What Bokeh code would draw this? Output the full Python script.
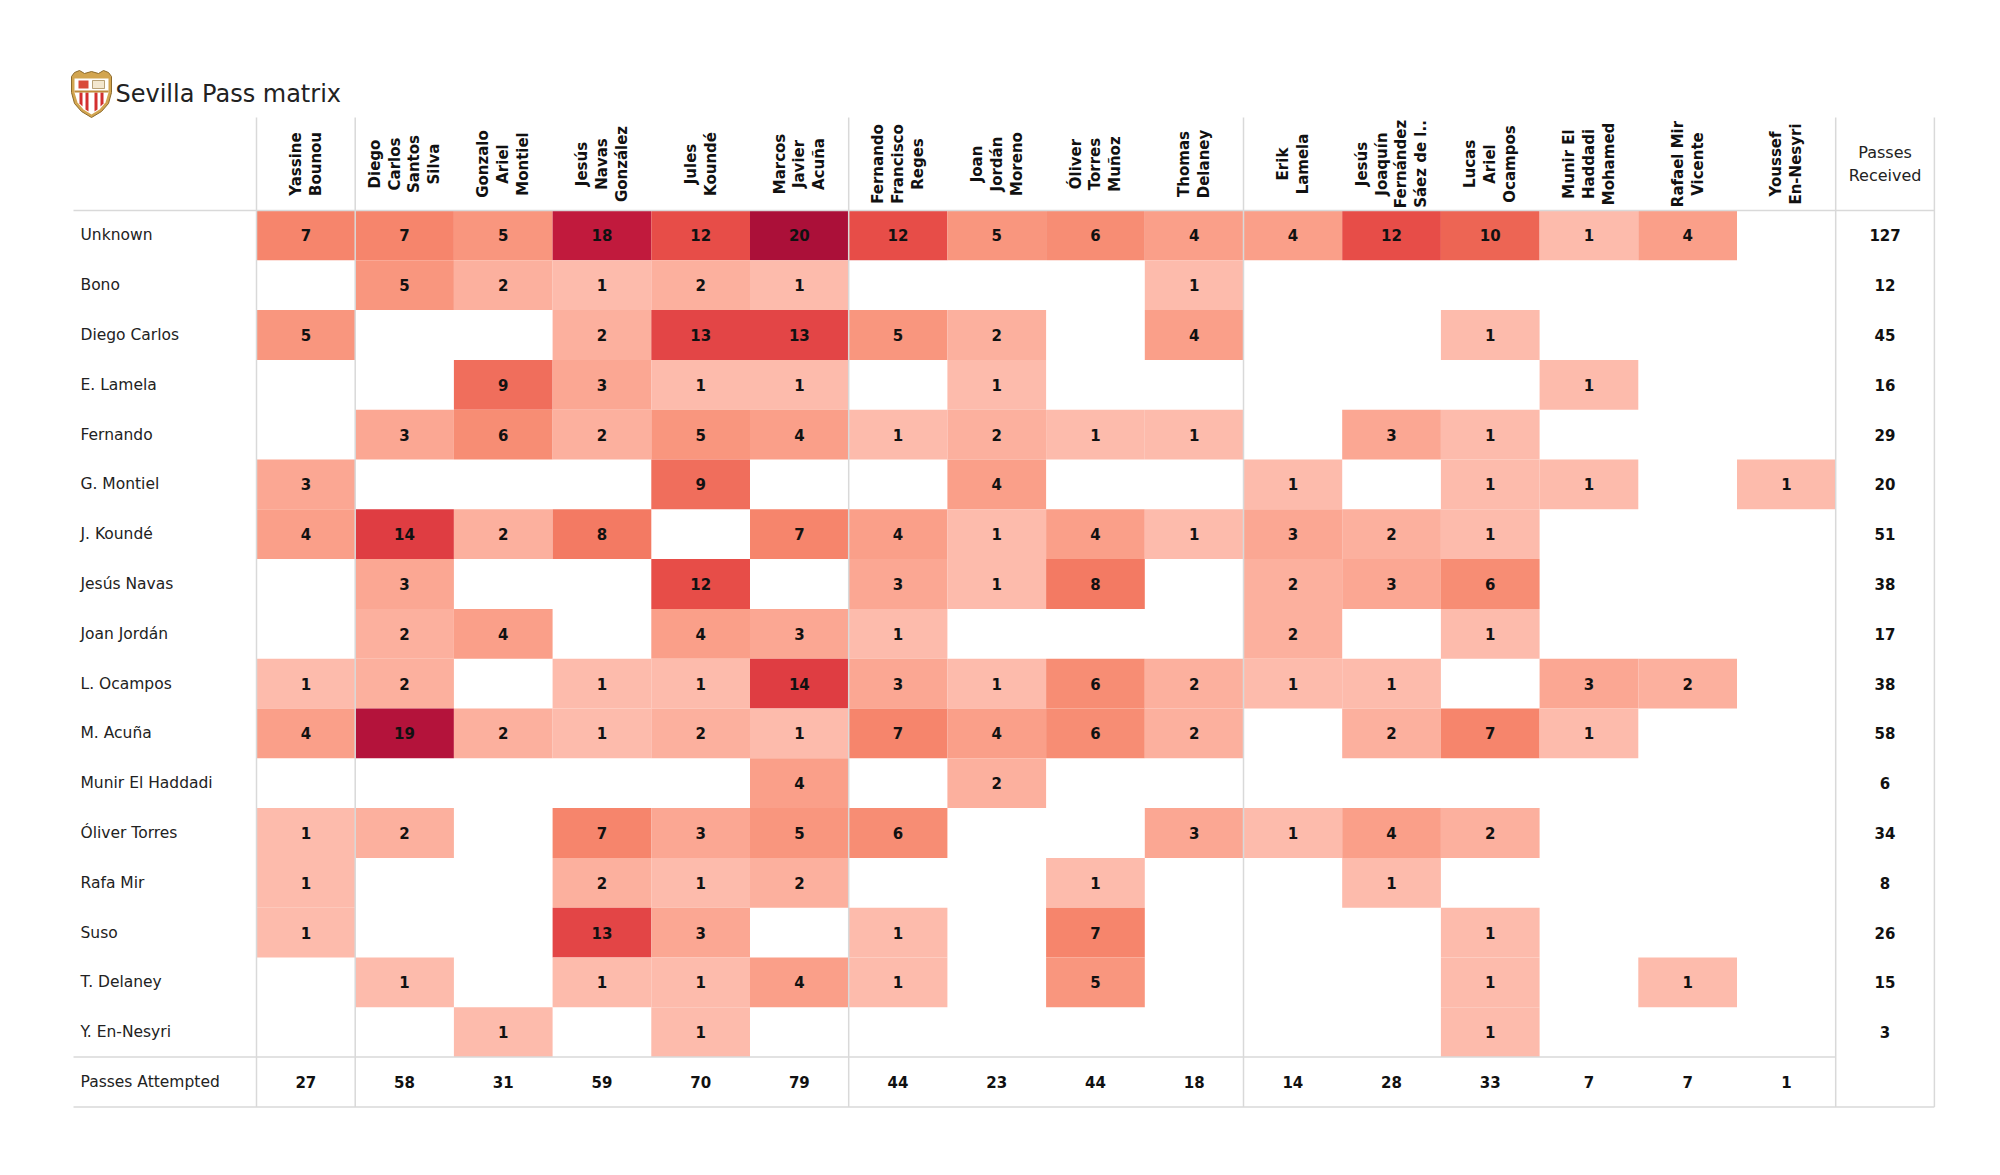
import numpy as np
from bokeh.plotting import figure
from bokeh.models import Range1d, ColumnDataSource
from bokeh.embed import file_html
from bokeh.resources import INLINE
from bokeh.core.properties import value

# ---------------- data ----------------
title = "Sevilla Pass matrix"

receivers = [
    "Yassine\nBounou", "Diego\nCarlos\nSantos\nSilva", "Gonzalo\nAriel\nMontiel",
    "Jesús\nNavas\nGonzález", "Jules\nKoundé", "Marcos\nJavier\nAcuña",
    "Fernando\nFrancisco\nReges", "Joan\nJordán\nMoreno", "Óliver\nTorres\nMuñoz",
    "Thomas\nDelaney", "Erik\nLamela", "Jesús\nJoaquín\nFernández\nSáez de l..",
    "Lucas\nAriel\nOcampos", "Munir El\nHaddadi\nMohamed", "Rafael Mir\nVicente",
    "Youssef\nEn-Nesyri",
]

passers = [
    "Unknown", "Bono", "Diego Carlos", "E. Lamela", "Fernando", "G. Montiel",
    "J. Koundé", "Jesús Navas", "Joan Jordán", "L. Ocampos", "M. Acuña",
    "Munir El Haddadi", "Óliver Torres", "Rafa Mir", "Suso", "T. Delaney",
    "Y. En-Nesyri",
]

N = None
passes = [
    [7, 7, 5, 18, 12, 20, 12, 5, 6, 4, 4, 12, 10, 1, 4, N],   # Unknown
    [N, 5, 2, 1, 2, 1, N, N, N, 1, N, N, N, N, N, N],          # Bono
    [5, N, N, 2, 13, 13, 5, 2, N, 4, N, N, 1, N, N, N],        # Diego Carlos
    [N, N, 9, 3, 1, 1, N, 1, N, N, N, N, N, 1, N, N],          # E. Lamela
    [N, 3, 6, 2, 5, 4, 1, 2, 1, 1, N, 3, 1, N, N, N],          # Fernando
    [3, N, N, N, 9, N, N, 4, N, N, 1, N, 1, 1, N, 1],          # G. Montiel
    [4, 14, 2, 8, N, 7, 4, 1, 4, 1, 3, 2, 1, N, N, N],         # J. Koundé
    [N, 3, N, N, 12, N, 3, 1, 8, N, 2, 3, 6, N, N, N],         # Jesús Navas
    [N, 2, 4, N, 4, 3, 1, N, N, N, 2, N, 1, N, N, N],          # Joan Jordán
    [1, 2, N, 1, 1, 14, 3, 1, 6, 2, 1, 1, N, 3, 2, N],         # L. Ocampos
    [4, 19, 2, 1, 2, 1, 7, 4, 6, 2, N, 2, 7, 1, N, N],         # M. Acuña
    [N, N, N, N, N, 4, N, 2, N, N, N, N, N, N, N, N],          # Munir El Haddadi
    [1, 2, N, 7, 3, 5, 6, N, N, 3, 1, 4, 2, N, N, N],          # Óliver Torres
    [1, N, N, 2, 1, 2, N, N, 1, N, N, 1, N, N, N, N],          # Rafa Mir
    [1, N, N, 13, 3, N, 1, N, 7, N, N, N, 1, N, N, N],         # Suso
    [N, 1, N, 1, 1, 4, 1, N, 5, N, N, N, 1, N, 1, N],          # T. Delaney
    [N, N, 1, N, 1, N, N, N, N, N, N, N, 1, N, N, N],          # Y. En-Nesyri
]

passes_received = [127, 12, 45, 16, 29, 20, 51, 38, 17, 38, 58, 6, 34, 8, 26, 15, 3]
passes_attempted = [27, 58, 31, 59, 70, 79, 44, 23, 44, 18, 14, 28, 33, 7, 7, 1]

group_breaks = [0, 1, 6, 10, 16, 17]   # vertical separators (column index)

# ---------------- style / layout ----------------
W, H = 1984, 1159
CW, RH = 98.7, 49.8          # cell size in px
X0, Y0 = 256.0, 210.0        # screenshot position of first cell
FONT = "DejaVu Sans"

def px(x):
    return (x - X0) / CW

def py(y):
    return (y - Y0) / RH

xs, xe = px(0), px(W)
ys, ye = py(0), py(H)

color_stops = [
    (1, (253, 187, 172)), (2, (252, 176, 158)), (3, (251, 167, 147)),
    (4, (250, 159, 137)), (5, (249, 150, 126)), (6, (247, 141, 116)),
    (7, (246, 133, 108)), (8, (243, 122, 99)), (9, (240, 110, 92)),
    (10, (237, 101, 84)), (12, (231, 77, 72)), (13, (227, 69, 70)),
    (14, (223, 61, 66)), (18, (193, 26, 61)), (19, (180, 19, 59)),
    (20, (171, 16, 57)),
]

def cmap(v):
    vals = [s[0] for s in color_stops]
    rgb = [np.interp(v, vals, [s[1][k] for s in color_stops]) for k in range(3)]
    return "#%02x%02x%02x" % tuple(int(round(c)) for c in rgb)

p = figure(width=W, height=H, x_range=Range1d(xs, xe), y_range=Range1d(ye, ys),
           output_backend="svg", toolbar_location=None, min_border=0,
           x_axis_type=None, y_axis_type=None)
p.grid.visible = False
p.outline_line_color = None
p.background_fill_color = "white"
p.border_fill_color = "white"

# ---------------- cells ----------------
cx, cy, cc, ct = [], [], [], []
for r, row in enumerate(passes):
    for c, v in enumerate(row):
        if v is None:
            continue
        cx.append(c + 0.5)
        cy.append(r + 0.5)
        cc.append(cmap(v))
        ct.append(str(v))
cells = ColumnDataSource(dict(x=cx, y=cy, color=cc, text=ct))
p.rect(x="x", y="y", width=1, height=1, fill_color="color", line_color=None, source=cells)

# ---------------- grid lines ----------------
top = py(117)
bottom = len(passers) + 1
left = px(73)
ncol = len(receivers)
p.segment(x0=group_breaks, y0=[top] * len(group_breaks), x1=group_breaks,
          y1=[bottom] * len(group_breaks), line_color="#d9d9d9", line_width=1.5)
p.segment(x0=[left, left, left], y0=[0, len(passers), bottom],
          x1=[ncol + 1, ncol, ncol + 1], y1=[0, len(passers), bottom],
          line_color="#d9d9d9", line_width=1.5)

# ---------------- texts ----------------
p.text(x="x", y="y", text="text", source=cells, text_align="center",
       text_baseline="middle", text_font=value(FONT), text_font_style="bold",
       text_font_size="15px", text_color="#111111")

rows_y = [r + 0.5 for r in range(len(passers))]
p.text(x=[px(80)] * len(passers), y=rows_y, text=passers, text_align="left",
       text_baseline="middle", text_font=value(FONT), text_font_size="15.5px",
       text_color="#222222")

p.text(x=[ncol + 0.5] * len(passes_received), y=rows_y,
       text=[str(v) for v in passes_received], text_align="center",
       text_baseline="middle", text_font=value(FONT), text_font_style="bold",
       text_font_size="15px", text_color="#111111")

ya = len(passers) + 0.5
p.text(x=[px(80)], y=[ya], text=["Passes Attempted"], text_align="left",
       text_baseline="middle", text_font=value(FONT), text_font_size="15.5px",
       text_color="#222222")
p.text(x=[c + 0.5 for c in range(ncol)], y=[ya] * ncol,
       text=[str(v) for v in passes_attempted], text_align="center",
       text_baseline="middle", text_font=value(FONT), text_font_style="bold",
       text_font_size="15px", text_color="#111111")

hy = top / 2.0
p.text(x=[c + 0.5 for c in range(ncol)], y=[hy] * ncol, text=receivers,
       angle=np.pi / 2, text_align="center", text_baseline="middle",
       text_font=value(FONT), text_font_style="bold", text_font_size="15px",
       text_color="#111111", text_line_height=1.1)
p.text(x=[ncol + 0.5], y=[hy], text=["Passes\nReceived"], text_align="center",
       text_baseline="middle", text_font=value(FONT), text_font_size="16px",
       text_color="#222222", text_line_height=1.2)

p.text(x=[px(115)], y=[py(93)], text=[title], text_align="left",
       text_baseline="middle", text_font=value(FONT), text_font_size="24px",
       text_color="#222222")

# ---------------- crest (decoration) ----------------
LX, LY = 70, 70
def shape(pts):
    return [px(LX + a) for a, b in pts], [py(LY + b) for a, b in pts]

outer = [(1, 6), (4, 2), (9, 0), (14, 3), (21, 1), (28, 3), (33, 0), (38, 2), (41, 6),
         (41, 22), (38, 33), (31, 41), (21, 47), (11, 41), (4, 33), (1, 22)]
inner = [(4, 8), (38, 8), (38, 22), (35, 32), (29, 39), (21, 44), (13, 39), (7, 32), (4, 22)]
ox, oy = shape(outer)
ix, iy = shape(inner)
p.patch(ox, oy, fill_color="#d2a550", line_color="#8c6a2c", line_width=1)
p.patch(ix, iy, fill_color="white", line_color=None)
stripes = [((9, 22), (12, 22), (12, 36), (9, 33)),
           ((15, 22), (18, 22), (18, 41), (15, 39)),
           ((24, 22), (27, 22), (27, 39), (24, 41)),
           ((30, 22), (33, 22), (33, 33), (30, 36))]
for s in stripes:
    sx, sy = shape(list(s))
    p.patch(sx, sy, fill_color="#d32f2f", line_color=None)
p.patch(*shape([(4, 20), (38, 20), (38, 22), (4, 22)]), fill_color="#c08a3a", line_color=None)
p.patch(*shape([(8, 10), (18, 10), (18, 18), (8, 18)]), fill_color="#d94a3a", line_color=None)
p.patch(*shape([(22, 10), (34, 10), (34, 18), (22, 18)]), fill_color="#f3e7cf", line_color="#8c6a2c", line_width=0.6)

open("out.html", "w").write(file_html(p, INLINE))
